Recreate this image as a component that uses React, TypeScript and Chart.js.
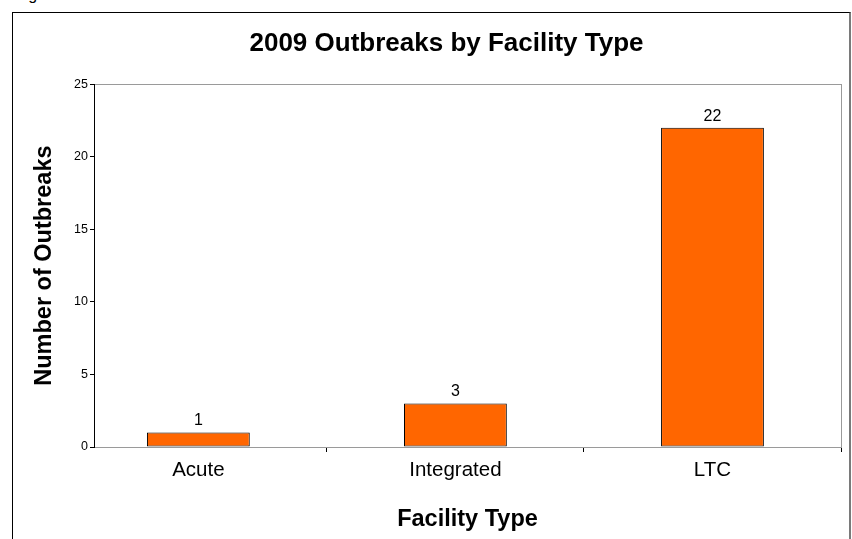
import { useEffect, useRef } from "react";
import { Chart, registerables } from "chart.js";

Chart.register(...registerables);

// Outbreak counts per facility type
const facilityTypes = ["Acute", "Integrated", "LTC"];
const outbreakCounts = [1, 3, 22];
const yMin = 0;
const yMax = 25;
const yStep = 5;

const chartTitle = "2009 Outbreaks by Facility Type";
const xAxisTitle = "Facility Type";
const yAxisTitle = "Number of Outbreaks";
const figureCaption = "Figure 1";

const FONT = "'Liberation Sans', Arial, Helvetica, sans-serif";
const BAR_FILL = "#FF6600";
const FRAME_GREY = "#9a9a9a";

const PAD_LEFT = 52;
const PAD_RIGHT = 11;

// Grey frame around the plot area (the value axis is drawn in black on top of it)
const plotFrame = {
  id: "plotFrame",
  beforeDraw(chart: any) {
    const { ctx, chartArea } = chart;
    ctx.save();
    ctx.strokeStyle = FRAME_GREY;
    ctx.lineWidth = 1;
    ctx.strokeRect(
      Math.round(chartArea.left) + 0.5,
      Math.round(chartArea.top) + 0.5,
      Math.round(chartArea.right - chartArea.left),
      Math.round(chartArea.bottom - chartArea.top)
    );
    ctx.restore();
  },
};

// Value labels above each bar
const barValueLabels = {
  id: "barValueLabels",
  afterDatasetsDraw(chart: any) {
    const { ctx } = chart;
    const meta = chart.getDatasetMeta(0);
    ctx.save();
    ctx.font = `16px ${FONT}`;
    ctx.fillStyle = "#000";
    ctx.textAlign = "center";
    ctx.textBaseline = "alphabetic";
    meta.data.forEach((bar: any, i: number) => {
      ctx.fillText(String(outbreakCounts[i]), bar.x, bar.y - 7);
    });
    ctx.restore();
  },
};

export default function App() {
  const canvasRef = useRef<HTMLCanvasElement | null>(null);

  useEffect(() => {
    const canvas = canvasRef.current;
    if (!canvas) return;

    const chart = new Chart(canvas, {
      type: "bar",
      data: {
        labels: facilityTypes,
        datasets: [
          {
            label: yAxisTitle,
            data: outbreakCounts.map((v, i) => ({ x: i, y: v })),
            backgroundColor: BAR_FILL,
            borderColor: "#000",
            borderWidth: 1,
            borderSkipped: false,
            barPercentage: 0.4,
            categoryPercentage: 1,
          },
        ],
      },
      options: {
        responsive: false,
        animation: false,
        devicePixelRatio: 1,
        layout: { padding: { left: PAD_LEFT, right: PAD_RIGHT, top: 0, bottom: 0 } },
        plugins: {
          legend: { display: false },
          tooltip: { enabled: false },
          title: {
            display: true,
            text: chartTitle,
            color: "#000",
            font: { family: FONT, size: 26, weight: "bold", lineHeight: 1.2 },
            padding: { top: 28, bottom: 25 },
          },
        },
        scales: {
          x: {
            type: "linear",
            offset: false,
            min: -0.406,
            max: facilityTypes.length - 0.5,
            afterBuildTicks(scale: any) {
              scale.ticks = facilityTypes.map((_, i) => ({ value: i }));
            },
            afterFit(scale: any) {
              scale.height = 92;
            },
            grid: {
              display: true,
              drawOnChartArea: false,
              drawTicks: true,
              tickLength: 5,
              offset: true,
              color: "#000",
              lineWidth: 1,
            },
            border: { display: true, color: FRAME_GREY, width: 1 },
            ticks: {
              autoSkip: false,
              maxRotation: 0,
              padding: 6,
              color: "#000",
              font: { family: FONT, size: 20.5, lineHeight: 1.2 },
              callback: (value: any) => facilityTypes[Number(value)] ?? "",
            },
            title: {
              display: true,
              text: xAxisTitle,
              color: "#000",
              font: { family: FONT, size: 23.5, weight: "bold", lineHeight: 1.2 },
              padding: { top: 0, bottom: 5 },
            },
          },
          y: {
            min: yMin,
            max: yMax,
            afterFit(scale: any) {
              scale.width = 94 - PAD_LEFT;
            },
            grid: {
              display: true,
              drawOnChartArea: false,
              drawTicks: true,
              tickLength: 4,
              color: "#000",
            },
            border: { display: true, color: "#000", width: 1 },
            ticks: {
              stepSize: yStep,
              padding: 2,
              color: "#000",
              font: { family: FONT, size: 12.5 },
            },
            title: {
              display: true,
              text: yAxisTitle,
              color: "#000",
              font: { family: FONT, size: 23.5, weight: "bold", lineHeight: 1.2 },
              padding: { top: 44.5 - PAD_LEFT - 14.1, bottom: 0 },
            },
          },
        },
      },
      plugins: [plotFrame, barValueLabels],
    } as any);

    return () => chart.destroy();
  }, []);

  return (
    <div
      style={{
        position: "fixed",
        left: 0,
        top: 0,
        width: 852,
        height: 539,
        overflow: "hidden",
        background: "#fff",
      }}
    >
      <div
        style={{
          position: "absolute",
          left: 15,
          top: -13,
          fontFamily: FONT,
          fontSize: 16,
          lineHeight: "16px",
          color: "#000",
          whiteSpace: "nowrap",
        }}
      >
        {figureCaption}
      </div>
      <div
        style={{
          position: "absolute",
          left: 12,
          top: 12,
          width: 839,
          height: 560,
          boxSizing: "border-box",
          borderLeft: "1px solid #000",
          borderTop: "1px solid #000",
          borderRight: "2px solid #7a7a7a",
        }}
      />
      <canvas
        ref={canvasRef}
        width={852}
        height={539}
        style={{ position: "absolute", left: 0, top: 0, width: 852, height: 539 }}
      />
    </div>
  );
}
